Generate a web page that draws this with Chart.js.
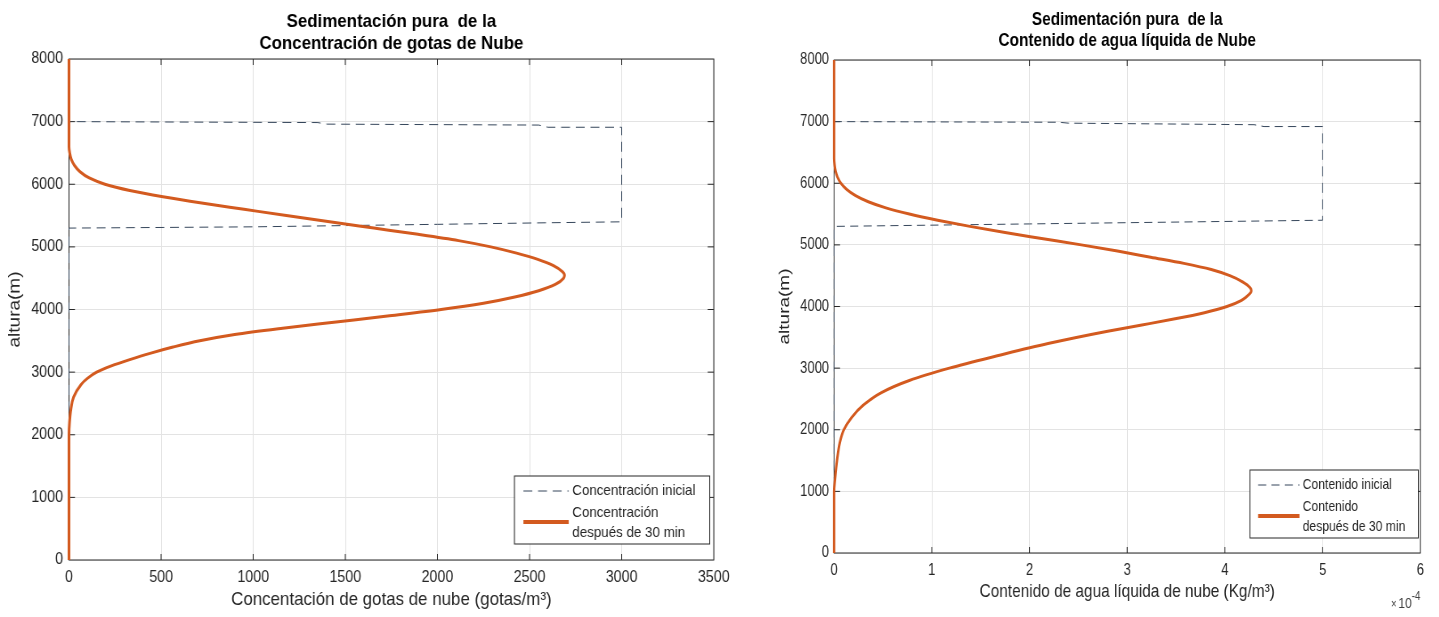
<!DOCTYPE html>
<html>
<head>
<meta charset="utf-8">
<script src="https://cdn.jsdelivr.net/npm/chart.js@4.4.1/dist/chart.umd.min.js"></script>
<style>
  body { margin: 0; background: #fff; }
  #wrap { position: relative; width: 1439px; height: 617px; overflow: hidden; }
  canvas { position: absolute; top: 0; }
</style>
</head>
<body>
<div id="wrap">
  <!-- the reference panels are squeezed sideways, so each canvas is drawn wider and shown narrower -->
  <canvas id="concChart" width="854" height="617" style="left:0;width:760px;height:617px"></canvas>
  <canvas id="lwcChart" width="838" height="617" style="left:760px;width:679px;height:617px"></canvas>
</div>
<script>
// ---------- datos: concentración de gotas (gotas/m3) vs altura (m) ----------
const concHeights = [0, 2000, 2200, 2400, 2600, 2800, 2900, 3000, 3100, 3200, 3300, 3400, 3500, 3600,
    3700, 3800, 3900, 4000, 4100, 4200, 4300, 4400, 4500, 4550, 4600, 4700, 4800, 4900, 5000,
    5100, 5200, 5300, 5400, 5500, 5600, 5700, 5800, 5900, 6000, 6100, 6200, 6300, 6400, 6500, 6600, 8000];
const concFinal = [0, 0, 3, 10, 25, 65, 100, 150, 230, 330, 440, 565, 710, 900,
    1160, 1450, 1740, 2020, 2250, 2420, 2550, 2640, 2685, 2690, 2680, 2630, 2545, 2430, 2290,
    2115, 1895, 1655, 1415, 1180, 950, 720, 510, 330, 195, 110, 60, 30, 12, 4, 0, 0];
const concInitHeights = [0, 5300, 5320, 5360, 5385, 5400, 6910, 6910, 6945, 6960, 6985, 7000, 8000];
const concInitValues  = [0, 0, 1000, 2000, 2600, 3000, 3000, 2600, 2550, 1400, 1350, 0, 0];

// ---------- datos: contenido de agua líquida (x 10^-4 kg/m3) vs altura (m) ----------
const lwcHeights = [0, 1000, 1200, 1500, 1800, 2000, 2200, 2400, 2600, 2800, 3000, 3200, 3400, 3600,
    3700, 3800, 3900, 4000, 4100, 4200, 4250, 4300, 4400, 4500, 4600, 4700, 4800, 4900, 5000,
    5100, 5200, 5300, 5400, 5500, 5600, 5700, 5800, 5900, 6000, 6100, 6200, 6300, 6400, 8000];
const lwcFinal = [0, 0, 0.01, 0.03, 0.06, 0.10, 0.18, 0.30, 0.48, 0.77, 1.18, 1.67, 2.19, 2.80,
    3.15, 3.49, 3.79, 4.02, 4.17, 4.25, 4.27, 4.26, 4.18, 4.05, 3.86, 3.58, 3.24, 2.90, 2.53,
    2.14, 1.75, 1.39, 1.06, 0.77, 0.53, 0.35, 0.22, 0.13, 0.07, 0.035, 0.015, 0.005, 0, 0];
const lwcInitHeights = [0, 5300, 5340, 5380, 5400, 6920, 6920, 6950, 6975, 6990, 7000, 8000];
const lwcInitValues  = [0, 0, 2, 4, 5, 5, 4.4, 4.3, 2.4, 2.3, 0, 0];

// ---------- ejes y textos ----------
const alturaTicks = { min: 0, max: 8000, step: 1000 };
const concTicks = { min: 0, max: 3500, step: 500 };
const lwcTicks = { min: 0, max: 6, step: 1 };

const concTitle = ['Sedimentación pura  de la', 'Concentración de gotas de Nube'];
const lwcTitle = ['Sedimentación pura  de la', 'Contenido de agua líquida de Nube'];
const concXLabel = 'Concentación de gotas de nube (gotas/m³)';
const lwcXLabel = 'Contenido de agua líquida de nube (Kg/m³)';
const yLabel = 'altura(m)';
const concLegend = [['Concentración inicial'], ['Concentración', 'después de 30 min']];
const lwcLegend = [['Contenido inicial'], ['Contenido', 'después de 30 min']];

const ORANGE = '#D35A1F';
const DASH = '#34455a';
const INK = '#262626';

Chart.defaults.font.family = '"Liberation Sans", Arial, sans-serif';

function toPoints(xs, ys) {
    return xs.map((v, i) => ({ x: v, y: ys[i] }));
}

// caja tipo MATLAB con marcas hacia dentro, leyenda y exponente
const matBox = {
    id: 'matBox',
    beforeDatasetsDraw(chart, args, opts) {
        const { ctx, chartArea: a, scales: { x, y } } = chart;
        ctx.save();
        ctx.strokeStyle = INK;
        ctx.lineWidth = 1;
        ctx.strokeRect(a.left, a.top, a.right - a.left, a.bottom - a.top);
        ctx.beginPath();
        x.ticks.forEach(t => {
            const px = x.getPixelForValue(t.value);
            if (px <= a.left + 1 || px >= a.right - 1) return;
            ctx.moveTo(px, a.bottom); ctx.lineTo(px, a.bottom - opts.tickLen);
            ctx.moveTo(px, a.top); ctx.lineTo(px, a.top + opts.tickLen);
        });
        y.ticks.forEach(t => {
            const py = y.getPixelForValue(t.value);
            if (py <= a.top + 1 || py >= a.bottom - 1) return;
            ctx.moveTo(a.left, py); ctx.lineTo(a.left + opts.tickLen / opts.squeeze, py);
            ctx.moveTo(a.right, py); ctx.lineTo(a.right - opts.tickLen / opts.squeeze, py);
        });
        ctx.stroke();
        ctx.restore();
    },
    afterDraw(chart, args, opts) {
        const { ctx, chartArea: a } = chart;
        const ds = chart.data.datasets;
        ctx.save();
        ctx.font = '15px "Liberation Sans", Arial, sans-serif';
        const tw = Math.max(...opts.legend.flat().map(s => ctx.measureText(s).width));
        const w = 65 + tw + 16, h = 68;
        const bx = a.right - opts.legendRight - w;
        const by = a.bottom - opts.legendBottom - h;
        ctx.fillStyle = '#fff';
        ctx.fillRect(bx, by, w, h);
        ctx.strokeStyle = INK;
        ctx.lineWidth = 1;
        ctx.strokeRect(bx, by, w, h);

        const rows = [{ sample: by + 15, text: [by + 15] }, { sample: by + 46, text: [by + 37, by + 57] }];
        rows.forEach((r, i) => {
            const d = ds[i];
            ctx.beginPath();
            ctx.setLineDash(d.borderDash || []);
            ctx.strokeStyle = d.borderColor;
            ctx.lineWidth = i === 1 ? 4 : d.borderWidth;
            ctx.moveTo(bx + 10, r.sample);
            ctx.lineTo(bx + 61, r.sample);
            ctx.stroke();
            ctx.setLineDash([]);
            ctx.fillStyle = INK;
            ctx.textBaseline = 'middle';
            ctx.textAlign = 'left';
            opts.legend[i].forEach((s, j) => ctx.fillText(s, bx + 65, r.text[j]));
        });

        if (opts.exponent) {
            const y0 = 608;
            ctx.fillStyle = '#404040';
            ctx.textBaseline = 'alphabetic';
            ctx.textAlign = 'right';
            ctx.font = '12px "Liberation Sans", Arial, sans-serif';
            const supW = ctx.measureText(opts.exponent).width;
            ctx.fillText(opts.exponent, a.right, y0 - 8);
            ctx.font = '15px "Liberation Sans", Arial, sans-serif';
            const baseW = ctx.measureText('10').width;
            ctx.fillText('10', a.right - supW, y0);
            ctx.font = '12px "Liberation Sans", Arial, sans-serif';
            ctx.fillText('×', a.right - supW - baseW - 2, y0);
        }
        ctx.restore();
    }
};

function buildChart(canvasId, cfg) {
    const canvas = document.getElementById(canvasId);
    return new Chart(canvas, {
        type: 'scatter',
        data: {
            datasets: [{
                data: toPoints(cfg.initX, cfg.initY),
                showLine: true,
                borderColor: DASH,
                borderWidth: 1,
                borderDash: [10, 6.5],
                pointRadius: 0,
                tension: 0,
                clip: 4,
                order: 1
            }, {
                data: toPoints(cfg.finalX, cfg.finalY),
                showLine: true,
                indexAxis: 'y', // la altura crece siempre: curva monótona en y
                cubicInterpolationMode: 'monotone',
                borderColor: ORANGE,
                borderWidth: 3,
                pointRadius: 0,
                clip: 4,
                order: 0
            }]
        },
        options: {
            responsive: false,
            animation: false,
            layout: { padding: { left: 0, right: cfg.padRight, top: 0, bottom: 0 } },
            plugins: {
                legend: { display: false },
                tooltip: { enabled: false },
                title: {
                    display: true,
                    fullSize: false,
                    text: cfg.title,
                    color: '#000',
                    font: { size: 19, weight: 'bold', lineHeight: cfg.titleLine + 'px' },
                    padding: cfg.titlePad
                },
                matBox: {
                    tickLen: 6,
                    squeeze: cfg.squeeze,
                    legend: cfg.legend,
                    legendRight: cfg.legendRight,
                    legendBottom: cfg.legendBottom,
                    exponent: cfg.exponent
                }
            },
            scales: {
                x: {
                    type: 'linear',
                    min: cfg.xTicks.min,
                    max: cfg.xTicks.max,
                    afterFit: s => { s.height = cfg.xAxisHeight; },
                    ticks: {
                        stepSize: cfg.xTicks.step,
                        autoSkip: false,
                        maxRotation: 0,
                        padding: cfg.xTickPad,
                        color: INK,
                        font: { size: 16 },
                        callback: v => String(v)
                    },
                    grid: { color: '#e3e3e3', drawTicks: false },
                    border: { display: false },
                    title: {
                        display: true,
                        text: cfg.xLabel,
                        color: INK,
                        font: { size: 19 },
                        padding: { top: 0, bottom: cfg.xTitlePad }
                    }
                },
                y: {
                    type: 'linear',
                    min: alturaTicks.min,
                    max: alturaTicks.max,
                    afterFit: s => { s.width = cfg.yAxisWidth; },
                    ticks: {
                        stepSize: alturaTicks.step,
                        autoSkip: false,
                        padding: cfg.yTickPad,
                        color: INK,
                        font: { size: 16 },
                        callback: v => String(v)
                    },
                    grid: { color: '#e3e3e3', drawTicks: false },
                    border: { display: false },
                    title: {
                        display: true,
                        text: yLabel,
                        color: INK,
                        font: { size: 19 },
                        padding: { top: cfg.yTitlePad, bottom: 0 }
                    }
                }
            }
        },
        plugins: [matBox]
    });
}

buildChart('concChart', {
    initX: concInitValues, initY: concInitHeights,
    finalX: concFinal, finalY: concHeights,
    xTicks: concTicks,
    title: concTitle, titleLine: 22, titlePad: { top: 11, bottom: 4 },
    xLabel: concXLabel, legend: concLegend,
    squeeze: 0.89,
    padRight: 52, xAxisHeight: 57, yAxisWidth: 77.5,
    xTickPad: 8, xTitlePad: 6, yTitlePad: 5.5, yTickPad: 6.7,
    legendRight: 4.5, legendBottom: 16
});

buildChart('lwcChart', {
    initX: lwcInitValues, initY: lwcInitHeights,
    finalX: lwcFinal, finalY: lwcHeights,
    xTicks: lwcTicks,
    title: lwcTitle, titleLine: 21, titlePad: { top: 9.5, bottom: 8.5 },
    xLabel: lwcXLabel, legend: lwcLegend,
    squeeze: 0.81,
    padRight: 23, xAxisHeight: 64, yAxisWidth: 91.4,
    xTickPad: 8, xTitlePad: 14, yTitlePad: 19.6, yTickPad: 6.2,
    legendRight: 2.5, legendBottom: 15,
    exponent: '-4'
});
</script>
</body>
</html>
